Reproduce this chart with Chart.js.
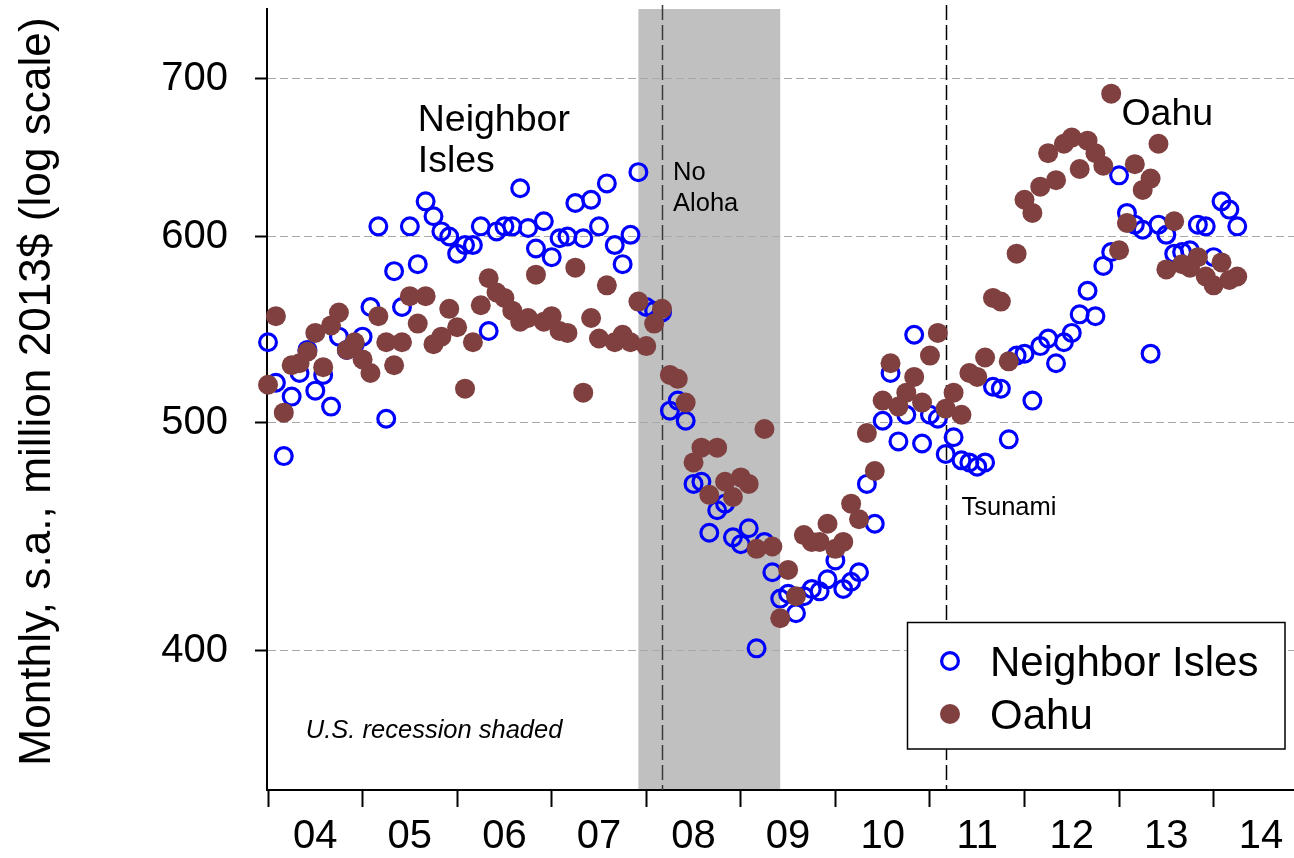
<!DOCTYPE html>
<html>
<head>
<meta charset="utf-8">
<title>Visitor spending: Neighbor Isles and Oahu</title>
<script src="https://cdn.jsdelivr.net/npm/chart.js@4.4.1/dist/chart.umd.min.js"></script>
<style>
  html, body { margin: 0; padding: 0; background: #ffffff; }
  #wrap { width: 1294px; height: 858px; }
</style>
</head>
<body>
<div id="wrap"><canvas id="chart" width="1294" height="858"></canvas></div>
<script>
// Monthly visitor spending, seasonally adjusted, million 2013$, starting January 2004.
const startYear = 2004;

const neighborIsles = [
  541, 520, 484, 513, 525, 537, 516, 524, 508, 544, 537, 540,
  544, 560, 606, 502, 580, 560, 606, 584, 621, 612, 603, 600,
  590, 595, 595, 606, 547, 603, 606, 606, 629, 605, 593, 609,
  588, 599, 600, 620, 599, 622, 606, 632, 595, 584, 601, 639,
  560, 558, 557, 506, 511, 501, 471, 472, 449, 459, 462, 447,
  444, 451, 401, 445, 432, 421, 423, 415, 422, 425, 424, 429,
  437, 425, 428, 432, 471, 453, 501, 525, 491, 504, 545, 490,
  504, 502, 485, 493, 482, 481, 479, 481, 518, 517, 492, 534,
  535, 511, 539, 543, 530, 541, 546, 556, 569, 555, 583, 591,
  637, 614, 607, 604, 535, 607, 601, 590, 591, 592, 607, 606,
  588, 621, 616, 606
];

const oahu = [
  519, 555, 505, 529, 530, 536, 546, 528, 550, 557, 537, 541,
  532, 525, 555, 541, 529, 541, 566, 551, 566, 540, 544, 559,
  549, 517, 541, 561, 576, 568, 565, 558, 552, 554, 578, 552,
  555, 547, 546, 582, 515, 554, 543, 572, 541, 545, 541, 563,
  539, 551, 559, 524, 522, 510, 481, 488, 466, 488, 472, 465,
  474, 471, 442, 497, 443, 413, 433, 422, 448, 445, 445, 453,
  442, 445, 462, 455, 495, 477, 511, 530, 508, 515, 523, 510,
  534, 546, 507, 515, 504, 525, 523, 533, 565, 563, 531, 590,
  622, 614, 630, 651, 634, 657, 661, 641, 659, 651, 643, 690,
  592, 608, 644, 628, 635, 657, 581, 609, 584, 582, 588, 577,
  572, 585, 575, 577
];

const yearLabels = ['04', '05', '06', '07', '08', '09', '10', '11', '12', '13', '14'];
const yTickValues = [400, 500, 600, 700];
const yTitle = 'Monthly, s.a., million 2013$ (log scale)';

// U.S. recession (NBER) and two local shocks
const recession = { start: '2007-12', end: '2009-06' };
const events = [
  { month: '2008-03', color: '#3a3a3a' },   // Aloha Airlines shuts down
  { month: '2011-03', color: '#000000' }    // Japan tsunami
];

// months since January of startYear
function monthIndex(ym) {
  const [yy, mm] = ym.split('-').map(Number);
  return (yy - startYear) * 12 + (mm - 1);
}

const FONT = '"Liberation Sans", Arial, Helvetica, sans-serif';
const BLUE = '#0000ff';
const BROWN = '#804040';

// text notes, anchored in data coordinates (month index, value)
const notes = [
  { text: 'Neighbor', x: 19.0, y: 665.3, size: 37.5, style: '' },
  { text: 'Isles', x: 19.0, y: 639.1, size: 37.5, style: '' },
  { text: 'Oahu', x: 108.3, y: 669.2, size: 37.5, style: '' },
  { text: 'No', x: 51.4, y: 634.1, size: 25.5, style: '' },
  { text: 'Aloha', x: 51.4, y: 615.2, size: 25.5, style: '' },
  { text: 'Tsunami', x: 88.0, y: 456.9, size: 25.5, style: '' },
  { text: 'U.S. recession shaded', x: 4.8, y: 367.4, size: 25.5, style: 'italic ' }
];

const backdrop = {
  id: 'backdrop',
  beforeDraw(chart) {
    const { ctx, chartArea: a, scales: { x } } = chart;
    const x0 = x.getPixelForValue(monthIndex(recession.start));
    const x1 = x.getPixelForValue(monthIndex(recession.end));
    ctx.save();
    ctx.fillStyle = '#c0c0c0';
    ctx.fillRect(x0, a.top, x1 - x0, a.bottom - a.top);
    ctx.restore();
  },
  beforeDatasetsDraw(chart) {
    const { ctx, chartArea: a, scales: { x } } = chart;
    ctx.save();
    ctx.lineWidth = 1.5;
    ctx.setLineDash([15, 5]);
    events.forEach(ev => {
      const px = Math.round(x.getPixelForValue(monthIndex(ev.month))) + 0.5;
      ctx.strokeStyle = ev.color;
      ctx.beginPath();
      ctx.moveTo(px, a.top - 4);
      ctx.lineTo(px, a.bottom);
      ctx.stroke();
    });
    ctx.restore();
  },
  afterDatasetsDraw(chart) {
    const { ctx, chartArea: a, scales: { x, y } } = chart;
    ctx.save();

    // vertical axis title
    ctx.save();
    ctx.translate(38, 391.5);
    ctx.rotate(-Math.PI / 2);
    ctx.font = '44.2px ' + FONT;
    ctx.fillStyle = '#000';
    ctx.textAlign = 'center';
    ctx.textBaseline = 'middle';
    ctx.fillText(yTitle, 0, 0);
    ctx.restore();

    ctx.fillStyle = '#000';
    ctx.textAlign = 'left';
    ctx.textBaseline = 'alphabetic';
    notes.forEach(n => {
      ctx.font = n.style + n.size + 'px ' + FONT;
      ctx.fillText(n.text, x.getPixelForValue(n.x), y.getPixelForValue(n.y));
    });

    // legend box
    const box = { left: 907.5, top: 622.5, right: 1285, bottom: 749 };
    ctx.fillStyle = '#ffffff';
    ctx.fillRect(box.left, box.top, box.right - box.left, box.bottom - box.top);
    ctx.strokeStyle = '#000';
    ctx.lineWidth = 1.5;
    ctx.strokeRect(box.left, box.top, box.right - box.left, box.bottom - box.top);

    const rows = [
      { ds: chart.data.datasets[0], cy: 661 },
      { ds: chart.data.datasets[1], cy: 714 }
    ];
    rows.forEach(r => {
      const ds = r.ds;
      ctx.beginPath();
      ctx.arc(950, r.cy, ds.pointRadius, 0, Math.PI * 2);
      if (ds.pointBorderWidth > 0) {
        ctx.lineWidth = ds.pointBorderWidth;
        ctx.strokeStyle = ds.pointBorderColor;
        ctx.stroke();
      } else {
        ctx.fillStyle = ds.pointBackgroundColor;
        ctx.fill();
      }
      ctx.fillStyle = '#000';
      ctx.font = '42px ' + FONT;
      ctx.fillText(ds.label, 990, r.cy + 14.5);
    });
    ctx.restore();
  }
};

const toPoints = arr => arr.map((v, i) => ({ x: i, y: v }));

new Chart(document.getElementById('chart'), {
  type: 'scatter',
  data: {
    datasets: [
      {
        label: 'Neighbor Isles',
        data: toPoints(neighborIsles),
        pointStyle: 'circle',
        pointRadius: 8.4,
        pointBorderWidth: 3.2,
        pointBorderColor: BLUE,
        pointBackgroundColor: 'rgba(0,0,0,0)',
        showLine: false,
        clip: false,
        order: 1
      },
      {
        label: 'Oahu',
        data: toPoints(oahu),
        pointStyle: 'circle',
        pointRadius: 10,
        pointBorderWidth: 0,
        pointBorderColor: BROWN,
        pointBackgroundColor: BROWN,
        showLine: false,
        clip: false,
        order: 0
      }
    ]
  },
  options: {
    responsive: false,
    animation: false,
    events: [],
    layout: { autoPadding: false, padding: { top: 9, right: 0, bottom: 0, left: 0 } },
    plugins: { legend: { display: false }, tooltip: { enabled: false } },
    scales: {
      x: {
        type: 'linear',
        min: -0.13,
        max: 130.2,
        afterBuildTicks(scale) {
          const t = [];
          yearLabels.forEach((lab, k) => {
            t.push({ value: k * 12 });
            t.push({ value: k * 12 + 6 });
          });
          scale.ticks = t;
        },
        afterFit(scale) {
          scale.height = 68;
          scale.paddingLeft = 0;
          scale.paddingRight = 0;
        },
        grid: {
          drawOnChartArea: false,
          drawTicks: true,
          tickLength: 17,
          tickWidth: 2,
          tickColor: ctx => (ctx.tick && ctx.tick.value % 12 === 0) ? '#000' : 'rgba(0,0,0,0)'
        },
        border: { display: true, color: '#000', width: 2 },
        ticks: {
          autoSkip: false,
          maxRotation: 0,
          minRotation: 0,
          padding: 6,
          color: '#000',
          font: { family: FONT, size: 40 },
          callback: v => (v % 12 === 6) ? yearLabels[(v - 6) / 12] : ''
        }
      },
      y: {
        type: 'logarithmic',
        min: 349.1,
        max: 749.6,
        afterBuildTicks(scale) {
          scale.ticks = yTickValues.map(v => ({ value: v }));
        },
        afterFit(scale) {
          scale.width = 267;
          scale.paddingTop = 0;
          scale.paddingBottom = 0;
        },
        grid: {
          drawOnChartArea: true,
          color: '#a8a8a8',
          lineWidth: 1,
          drawTicks: true,
          tickLength: 12,
          tickWidth: 2,
          tickColor: '#000',
          tickBorderDash: []
        },
        border: { display: true, color: '#000', width: 2, dash: [8, 4] },
        ticks: {
          padding: 27,
          color: '#000',
          font: { family: FONT, size: 40 },
          callback: v => String(v)
        },
        title: { display: false }
      }
    }
  },
  plugins: [backdrop]
});
</script>
</body>
</html>
